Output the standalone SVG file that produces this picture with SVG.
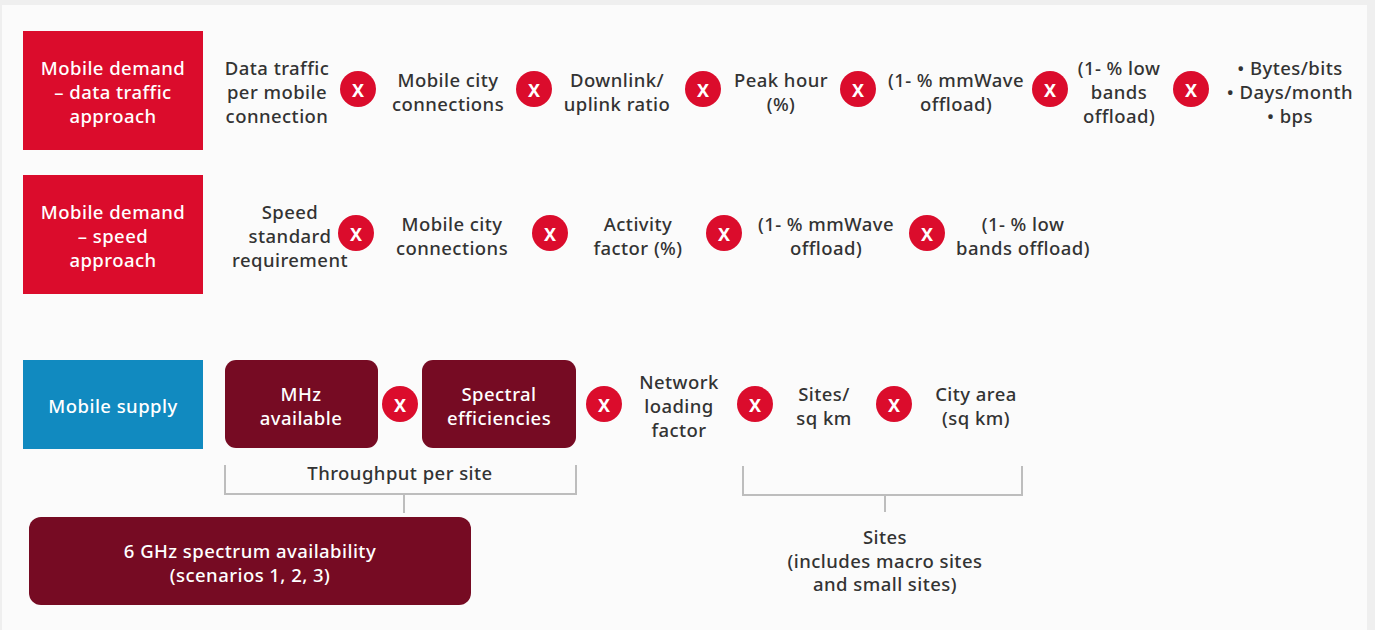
<svg xmlns="http://www.w3.org/2000/svg" width="1375" height="630" viewBox="0 0 1375 630">
<style>
text{font-family:"Noto Sans","Liberation Sans",sans-serif;font-size:18.5px;letter-spacing:0.45px;font-weight:500;text-anchor:middle;dominant-baseline:central}
.d{fill:#333333}
.w{fill:#ffffff}
.red{fill:#db0c2c}
.blue{fill:#118ac0}
.mar{fill:#760b23}
.xc{fill:#db0c2c}
.xt{fill:#ffffff;font-weight:700;font-size:18px;letter-spacing:0}
.br{fill:none;stroke:#bdbdbd;stroke-width:2}
</style>
<defs>
<g id="x"><circle r="18" class="xc"/><text class="xt" y="1">X</text></g>
</defs>
<rect width="1375" height="630" fill="#efefef"/>
<rect x="2" y="5" width="1365" height="625" fill="#fbfbfb"/>

<g id="connectors">
<path class="br" d="M225,465 V494 H576 V465 M404,494 V513"/>
<path class="br" d="M743,466 V495 H1022 V466 M885,495 V512"/>
</g>

<g id="row1">
<g id="n-demand-traffic"><rect class="red" x="23" y="31" width="180" height="119"/>
<text class="w" x="113" y="67">Mobile demand</text><text class="w" x="113" y="91">– data traffic</text><text class="w" x="113" y="115">approach</text></g>
<g id="n-data-traffic"><text class="d" x="277" y="67">Data traffic</text><text class="d" x="277" y="91">per mobile</text><text class="d" x="277" y="115">connection</text></g>
<use href="#x" x="358" y="89"/>
<g id="n-city-conn-1"><text class="d" x="448" y="79">Mobile city</text><text class="d" x="448" y="103">connections</text></g>
<use href="#x" x="534" y="89"/>
<g id="n-downlink"><text class="d" x="617" y="79">Downlink/</text><text class="d" x="617" y="103">uplink ratio</text></g>
<use href="#x" x="703" y="89"/>
<g id="n-peak"><text class="d" x="781" y="79">Peak hour</text><text class="d" x="781" y="103">(%)</text></g>
<use href="#x" x="858" y="89"/>
<g id="n-mmwave-1"><text class="d" x="956" y="79">(1- % mmWave</text><text class="d" x="956" y="103">offload)</text></g>
<use href="#x" x="1050" y="89"/>
<g id="n-low-1"><text class="d" x="1119" y="67">(1- % low</text><text class="d" x="1119" y="91">bands</text><text class="d" x="1119" y="115">offload)</text></g>
<use href="#x" x="1191" y="89"/>
<g id="n-units"><text class="d" x="1290" y="67">• Bytes/bits</text><text class="d" x="1290" y="91">• Days/month</text><text class="d" x="1290" y="115">• bps</text></g>
</g>

<g id="row2">
<g id="n-demand-speed"><rect class="red" x="23" y="175" width="180" height="119"/>
<text class="w" x="113" y="211">Mobile demand</text><text class="w" x="113" y="235">– speed</text><text class="w" x="113" y="259">approach</text></g>
<g id="n-speed"><text class="d" x="290" y="211">Speed</text><text class="d" x="290" y="235">standard</text><text class="d" x="290" y="259">requirement</text></g>
<use href="#x" x="356" y="233"/>
<g id="n-city-conn-2"><text class="d" x="452" y="223">Mobile city</text><text class="d" x="452" y="247">connections</text></g>
<use href="#x" x="550" y="233"/>
<g id="n-activity"><text class="d" x="638" y="223">Activity</text><text class="d" x="638" y="247">factor (%)</text></g>
<use href="#x" x="724" y="233"/>
<g id="n-mmwave-2"><text class="d" x="826" y="223">(1- % mmWave</text><text class="d" x="826" y="247">offload)</text></g>
<use href="#x" x="927" y="233"/>
<g id="n-low-2"><text class="d" x="1023" y="223">(1- % low</text><text class="d" x="1023" y="247">bands offload)</text></g>
</g>

<g id="row3">
<g id="n-supply"><rect class="blue" x="23" y="360" width="180" height="89"/>
<text class="w" x="113" y="405">Mobile supply</text></g>
<g id="n-mhz"><rect class="mar" x="225" y="360" width="153" height="88" rx="11"/>
<text class="w" x="301" y="393">MHz</text><text class="w" x="301" y="417">available</text></g>
<use href="#x" x="400" y="404"/>
<g id="n-spectral"><rect class="mar" x="422" y="360" width="154" height="88" rx="11"/>
<text class="w" x="499" y="393">Spectral</text><text class="w" x="499" y="417">efficiencies</text></g>
<use href="#x" x="604" y="404"/>
<g id="n-loading"><text class="d" x="679" y="381">Network</text><text class="d" x="679" y="405">loading</text><text class="d" x="679" y="429">factor</text></g>
<use href="#x" x="755" y="404"/>
<g id="n-sites-sqkm"><text class="d" x="824" y="393">Sites/</text><text class="d" x="824" y="417">sq km</text></g>
<use href="#x" x="894" y="404"/>
<g id="n-city-area"><text class="d" x="976" y="393">City area</text><text class="d" x="976" y="417">(sq km)</text></g>
</g>

<g id="n-throughput"><text class="d" x="400" y="472">Throughput per site</text></g>
<g id="n-6ghz"><rect class="mar" x="29" y="517" width="442" height="88" rx="12"/>
<text class="w" x="250" y="550">6 GHz spectrum availability</text><text class="w" x="250" y="574">(scenarios 1, 2, 3)</text></g>
<g id="n-sites"><text class="d" x="885" y="536">Sites</text><text class="d" x="885" y="560">(includes macro sites</text><text class="d" x="885" y="583">and small sites)</text></g>
</svg>
